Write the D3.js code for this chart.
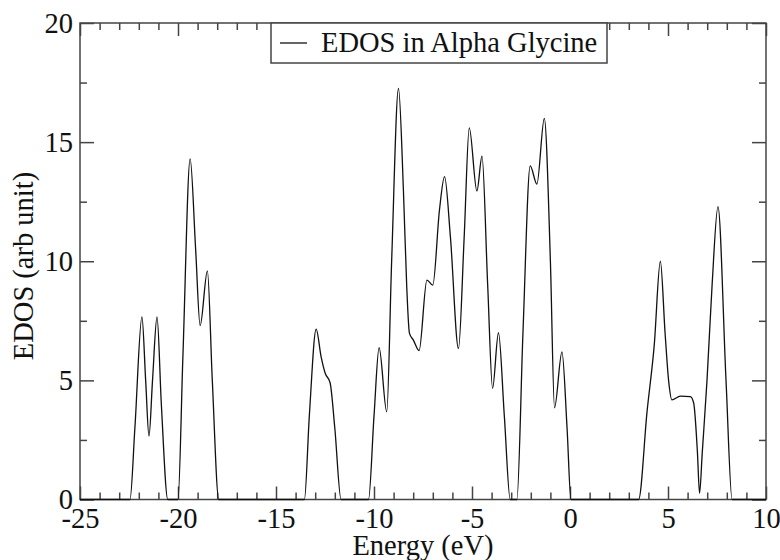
<!DOCTYPE html>
<html>
<head>
<meta charset="utf-8">
<script src="https://cdn.jsdelivr.net/npm/d3@7"></script>
<style>
  body { margin: 0; background: #fff; }
  .tick line { stroke: #444; stroke-width: 1.5; }
</style>
</head>
<body>
<div class="chart"></div>
<script>
const svgWidth = 780;
const svgHeight = 560;
const serif = "'Liberation Serif', 'Times New Roman', 'DejaVu Serif', serif";
const fontSize = 28.5;

const margin = { top: 23, right: 14, bottom: 60.5, left: 80 };
const width = svgWidth - margin.left - margin.right;
const height = svgHeight - margin.top - margin.bottom;

// data: energy (eV) vs EDOS (arb unit)
const energy = [-25, -22.45, -22.2, -21.84, -21.65, -21.48, -21.3, -21.07, -20.85, -20.52,
  -20.0, -19.75, -19.38, -19.1, -18.87, -18.5, -18.25, -17.92,
  -13.55, -13.3, -12.95, -12.7, -12.49, -12.24, -12.0, -11.68,
  -10.28, -10.0, -9.74, -9.35, -9.1, -8.75, -8.5, -8.33, -8.19, -7.99, -7.7,
  -7.3, -7.0, -6.66, -6.4, -6.1, -5.69, -5.4, -5.14, -4.75, -4.49, -4.2, -3.95,
  -3.65, -3.35, -3.05,
  -2.71, -2.4, -2.03, -1.69, -1.31, -1.0, -0.79, -0.41, -0.15, 0.05,
  3.5, 3.93, 4.3, 4.61, 4.85, 5.03, 5.2, 5.63, 6.14, 6.31, 6.5, 6.61, 6.75, 6.99,
  7.25, 7.55, 7.96, 8.27, 10];
const edos = [0, 0, 3.0, 7.66, 5.0, 2.66, 5.0, 7.66, 4.0, 0,
  0, 6.0, 14.3, 10.5, 7.3, 9.6, 5.0, 0,
  0, 3.5, 7.15, 6.0, 5.3, 4.9, 3.0, 0,
  0, 3.5, 6.37, 3.68, 10.0, 17.25, 13.0, 8.93, 6.97, 6.69, 6.25,
  9.21, 9.0, 12.15, 13.55, 11.0, 6.34, 11.0, 15.6, 12.95, 14.41, 9.0, 4.67,
  7.0, 3.5, 0,
  0, 7.0, 14.0, 13.24, 16.0, 10.0, 3.85, 6.2, 3.0, 0,
  0, 3.68, 6.5, 10.0, 7.0, 5.0, 4.18, 4.34, 4.32, 4.05, 2.0, 0.26, 2.0, 5.0,
  9.0, 12.29, 5.0, 0, 0];

const xMajor = [-25, -20, -15, -10, -5, 0, 5, 10];
const yMajor = [0, 5, 10, 15, 20];
const legendLabel = 'EDOS in Alpha Glycine';

const svg = d3.select('.chart')
  .append('svg')
  .attr('width', svgWidth)
  .attr('height', svgHeight)
  .attr('font-family', serif);

const chartGroup = svg.append('g')
  .attr('transform', `translate(${margin.left}, ${margin.top})`);

const x = d3.scaleLinear().domain([-25, 10]).range([0, width]);
const y = d3.scaleLinear().domain([0, 20]).range([height, 0]);

const xMinor = d3.range(-25, 10.001, 1).filter(v => v % 5 !== 0);
const yMinor = [2.5, 7.5, 12.5, 17.5];

// plain hyphen minus like the original plot
const fmt = d => String(d);

//inward ticks on all four sides
function addAxis(axis, tr) {
  const g = chartGroup.append('g').attr('transform', tr).call(axis);
  g.select('.domain').remove();
  g.attr('font-family', serif).attr('font-size', fontSize);
  g.selectAll('text').attr('fill', '#111');
  return g;
}
addAxis(d3.axisBottom(x).tickValues(xMajor).tickSize(-13).tickPadding(8.3).tickFormat(fmt), `translate(0, ${height})`);
addAxis(d3.axisBottom(x).tickValues(xMinor).tickSize(-7).tickFormat(''), `translate(0, ${height})`);
addAxis(d3.axisTop(x).tickValues(xMajor).tickSize(-13).tickFormat(''), 'translate(0, 0)');
addAxis(d3.axisTop(x).tickValues(xMinor).tickSize(-7).tickFormat(''), 'translate(0, 0)');
addAxis(d3.axisLeft(y).tickValues(yMajor).tickSize(-14).tickPadding(7).tickFormat(fmt), 'translate(0, 0)');
addAxis(d3.axisLeft(y).tickValues(yMinor).tickSize(-7).tickFormat(''), 'translate(0, 0)');
addAxis(d3.axisRight(y).tickValues(yMajor).tickSize(-14).tickFormat(''), `translate(${width}, 0)`);
addAxis(d3.axisRight(y).tickValues(yMinor).tickSize(-7).tickFormat(''), `translate(${width}, 0)`);

//frame
chartGroup.append('rect')
  .attr('width', width)
  .attr('height', height)
  .attr('fill', 'none')
  .attr('stroke', '#444')
  .attr('stroke-width', 1.5);

//the EDOS curve
const points = energy.map((e, i) => [e, edos[i]]);
const line = d3.line()
  .x(d => x(d[0]))
  .y(d => y(d[1]))
  .curve(d3.curveMonotoneX);

chartGroup.append('path')
  .datum(points)
  .attr('d', line)
  .attr('fill', 'none')
  .attr('stroke', '#111')
  .attr('stroke-width', 1.3);

//legend box
const legend = svg.append('g').attr('transform', 'translate(271, 23)');
legend.append('rect')
  .attr('width', 336)
  .attr('height', 40)
  .attr('fill', '#fff')
  .attr('stroke', '#444')
  .attr('stroke-width', 1.5);
legend.append('line')
  .attr('x1', 9).attr('x2', 36)
  .attr('y1', 20).attr('y2', 20)
  .attr('stroke', '#111')
  .attr('stroke-width', 1.3);
legend.append('text')
  .attr('x', 50)
  .attr('y', 28.5)
  .attr('font-size', fontSize)
  .attr('fill', '#111')
  .text(legendLabel);

//axis labels
svg.append('text')
  .attr('x', margin.left + width / 2)
  .attr('y', 555)
  .attr('text-anchor', 'middle')
  .attr('font-size', fontSize)
  .attr('fill', '#111')
  .text('Energy (eV)');

svg.append('text')
  .attr('transform', 'translate(33, 266) rotate(-90)')
  .attr('text-anchor', 'middle')
  .attr('font-size', fontSize)
  .attr('fill', '#111')
  .text('EDOS (arb unit)');
</script>
</body>
</html>
